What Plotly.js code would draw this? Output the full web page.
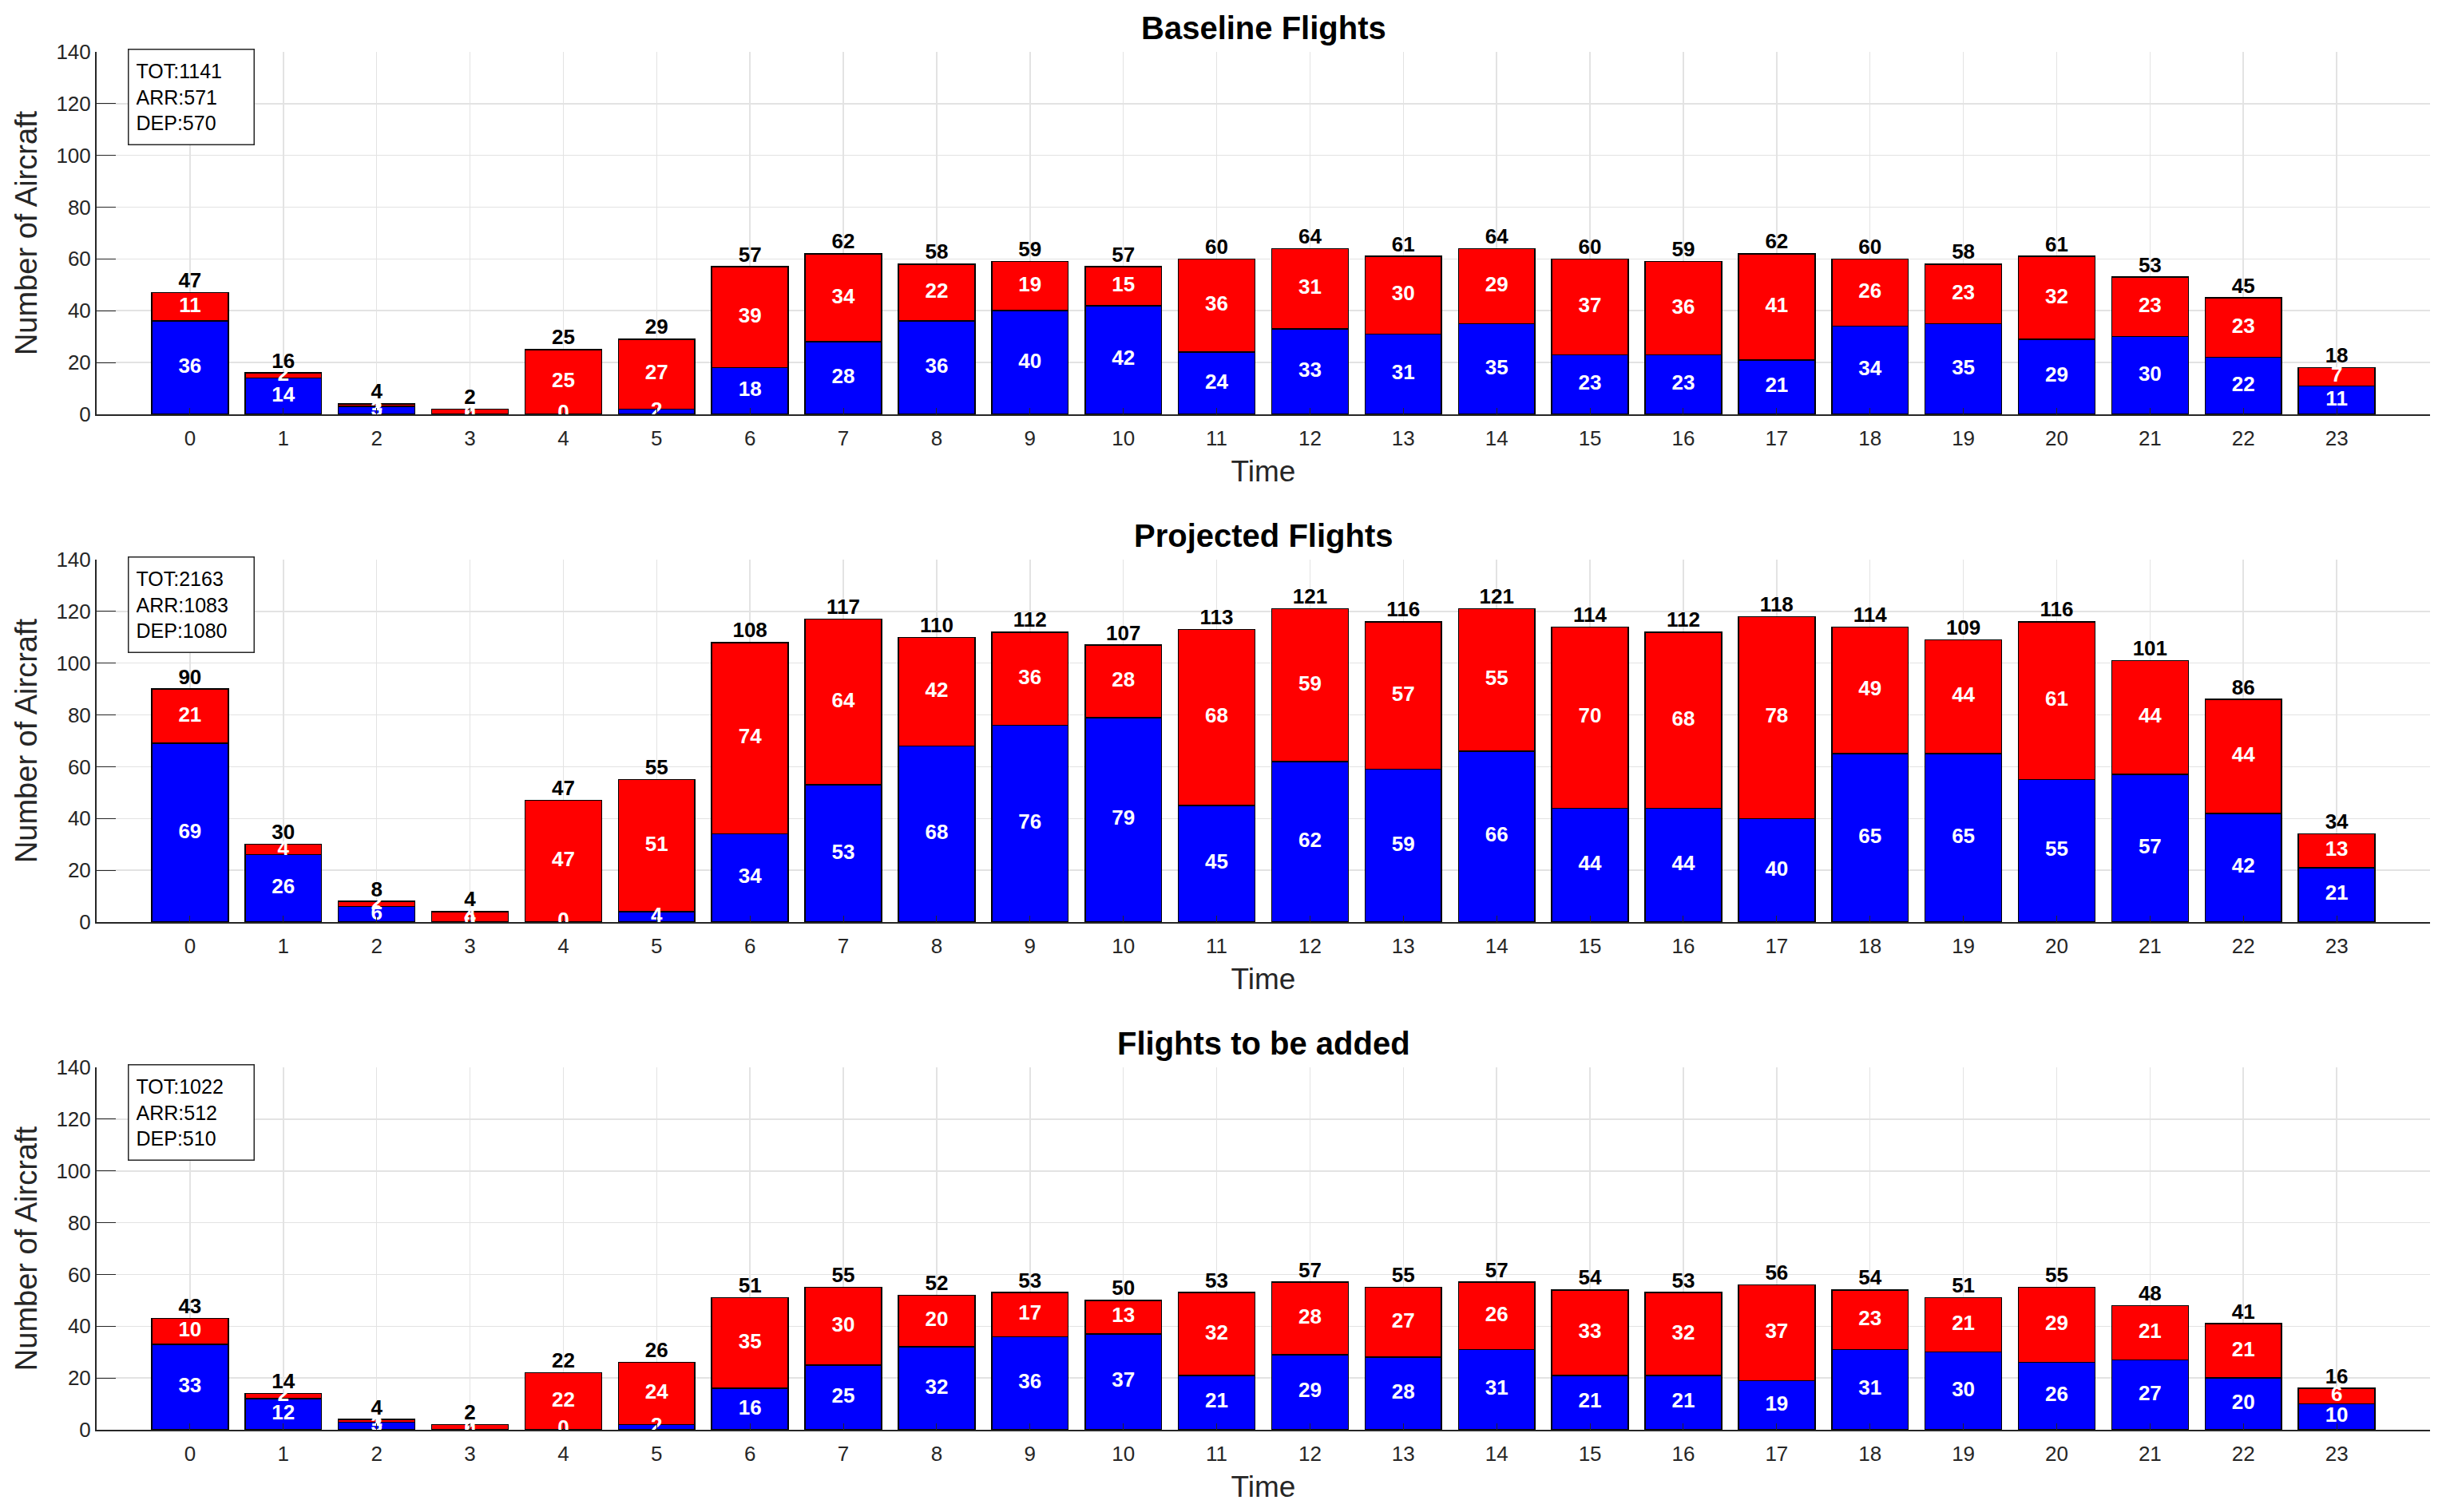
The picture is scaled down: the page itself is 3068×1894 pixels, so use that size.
<!DOCTYPE html>
<html>
<head>
<meta charset="utf-8">
<script src="https://cdn.plot.ly/plotly-3.0.1.min.js"></script>
<style>
    html, body { margin: 0; padding: 0; background: #ffffff; }
    #flightPlot { width: 3068px; height: 1894px; }
</style>
</head>
<body>
<div id="flightPlot"></div>
<script>
let hours = [0, 1, 2, 3, 4, 5, 6, 7, 8, 9, 10, 11, 12, 13, 14, 15, 16, 17, 18, 19, 20, 21, 22, 23];

// Baseline flights (blue = departures, red = arrivals)
let baseDep = [36, 14, 3, 0, 0, 2, 18, 28, 36, 40, 42, 24, 33, 31, 35, 23, 23, 21, 34, 35, 29, 30, 22, 11];
let baseArr = [11, 2, 1, 2, 25, 27, 39, 34, 22, 19, 15, 36, 31, 30, 29, 37, 36, 41, 26, 23, 32, 23, 23, 7];

// Projected flights
let projDep = [69, 26, 6, 0, 0, 4, 34, 53, 68, 76, 79, 45, 62, 59, 66, 44, 44, 40, 65, 65, 55, 57, 42, 21];
let projArr = [21, 4, 2, 4, 47, 51, 74, 64, 42, 36, 28, 68, 59, 57, 55, 70, 68, 78, 49, 44, 61, 44, 44, 13];

// Flights to be added
let addDep = [33, 12, 3, 0, 0, 2, 16, 25, 32, 36, 37, 21, 29, 28, 31, 21, 21, 19, 31, 30, 26, 27, 20, 10];
let addArr = [10, 2, 1, 2, 22, 24, 35, 30, 20, 17, 13, 32, 28, 27, 26, 33, 32, 37, 23, 21, 29, 21, 21, 6];

let panelTitles = ['Baseline Flights', 'Projected Flights', 'Flights to be added'];
let yTicks = [0, 20, 40, 60, 80, 100, 120, 140];

let panels = [
    { dep: baseDep, arr: baseArr },
    { dep: projDep, arr: projArr },
    { dep: addDep, arr: addArr },
];
let domains = [[0.737, 1], [0.3685, 0.6315], [0, 0.263]];

let sum = function (a) { return a.reduce(function (s, v) { return s + v; }, 0); };

let data = [];
let layout = {
    width: 3068,
    height: 1894,
    margin: { l: 121, r: 25, t: 65, b: 103, pad: 0 },
    barmode: 'stack',
    bargap: 0.18,
    showlegend: false,
    paper_bgcolor: '#ffffff',
    plot_bgcolor: '#ffffff',
    font: { family: 'Liberation Sans, Arial, sans-serif', size: 26, color: '#262626' },
    annotations: [],
};

for (let p = 0; p < panels.length; ++p) {
    let xa = p === 0 ? 'x' : 'x' + (p + 1);
    let ya = p === 0 ? 'y' : 'y' + (p + 1);
    let dep = panels[p].dep;
    let arr = panels[p].arr;
    let tot = dep.map(function (v, i) { return v + arr[i]; });
    let depMid = dep.map(function (v) { return v / 2; });
    let arrMid = dep.map(function (v, i) { return v + arr[i] / 2; });

    data.push({ // Departures
        type: 'bar', x: hours, y: dep, xaxis: xa, yaxis: ya,
        marker: { color: '#0000ff', line: { color: '#000000', width: 1.5 } },
        hoverinfo: 'none',
    }, { // Arrivals
        type: 'bar', x: hours, y: arr, xaxis: xa, yaxis: ya,
        marker: { color: '#ff0000', line: { color: '#000000', width: 1.5 } },
        hoverinfo: 'none',
    }, { // Departure labels
        type: 'scatter', mode: 'text', x: hours, y: depMid, xaxis: xa, yaxis: ya,
        text: dep.map(String), textposition: 'middle center',
        textfont: { family: 'Liberation Sans, Arial, sans-serif', size: 26, color: '#ffffff', weight: 'bold' },
        hoverinfo: 'none', cliponaxis: true,
    }, { // Arrival labels
        type: 'scatter', mode: 'text', x: hours, y: arrMid, xaxis: xa, yaxis: ya,
        text: arr.map(String), textposition: 'middle center',
        textfont: { family: 'Liberation Sans, Arial, sans-serif', size: 26, color: '#ffffff', weight: 'bold' },
        hoverinfo: 'none', cliponaxis: true,
    }, { // Totals
        type: 'scatter', mode: 'text', x: hours, y: tot, xaxis: xa, yaxis: ya,
        text: tot.map(String), textposition: 'top center',
        textfont: { family: 'Liberation Sans, Arial, sans-serif', size: 26, color: '#000000', weight: 'bold' },
        hoverinfo: 'none', cliponaxis: false,
    });

    let xKey = p === 0 ? 'xaxis' : 'xaxis' + (p + 1);
    let yKey = p === 0 ? 'yaxis' : 'yaxis' + (p + 1);
    layout[xKey] = {
        domain: [0, 1],
        anchor: ya,
        range: [-1, 24],
        tickmode: 'array',
        tickvals: hours,
        ticktext: hours.map(String),
        ticks: 'inside',
        ticklen: 8,
        tickcolor: '#262626',
        ticklabelstandoff: 6,
        showgrid: true,
        gridcolor: '#e3e3e3',
        gridwidth: 1.5,
        showline: true,
        linecolor: '#262626',
        linewidth: 2,
        zeroline: false,
        tickfont: { size: 26, color: '#262626' },
        title: { text: 'Time', font: { size: 37, color: '#262626' }, standoff: 14 },
    };
    layout[yKey] = {
        domain: domains[p],
        anchor: xa,
        range: [0, 140],
        tickmode: 'array',
        tickvals: yTicks,
        ticks: 'inside',
        ticklen: 24,
        tickcolor: '#262626',
        showgrid: true,
        gridcolor: '#e3e3e3',
        gridwidth: 1.5,
        showline: true,
        linecolor: '#262626',
        linewidth: 2,
        zeroline: false,
        tickfont: { size: 26, color: '#262626' },
        title: { text: 'Number of Aircraft', font: { size: 38, color: '#262626' }, standoff: 12 },
    };

    layout.annotations.push({ // Panel title
        xref: 'paper', yref: ya + ' domain',
        x: 0.5, y: 1, yanchor: 'bottom', yshift: 6,
        showarrow: false,
        text: '<b>' + panelTitles[p] + '</b>',
        font: { size: 40, color: '#000000' },
    }, { // Summary box
        xref: xa + ' domain', yref: ya + ' domain',
        x: 0.0133, y: 1.008, xanchor: 'left', yanchor: 'top',
        showarrow: false, align: 'left',
        text: 'TOT:' + sum(tot) + '<br>ARR:' + sum(arr) + '<br>DEP:' + sum(dep),
        font: { size: 25, color: '#000000' },
        bgcolor: '#ffffff', bordercolor: '#262626', borderwidth: 1.5, borderpad: 9,
        width: 138, height: 100,
    });
}

let config = { staticPlot: true, displayModeBar: false };
Plotly.newPlot('flightPlot', data, layout, config);
</script>
</body>
</html>
